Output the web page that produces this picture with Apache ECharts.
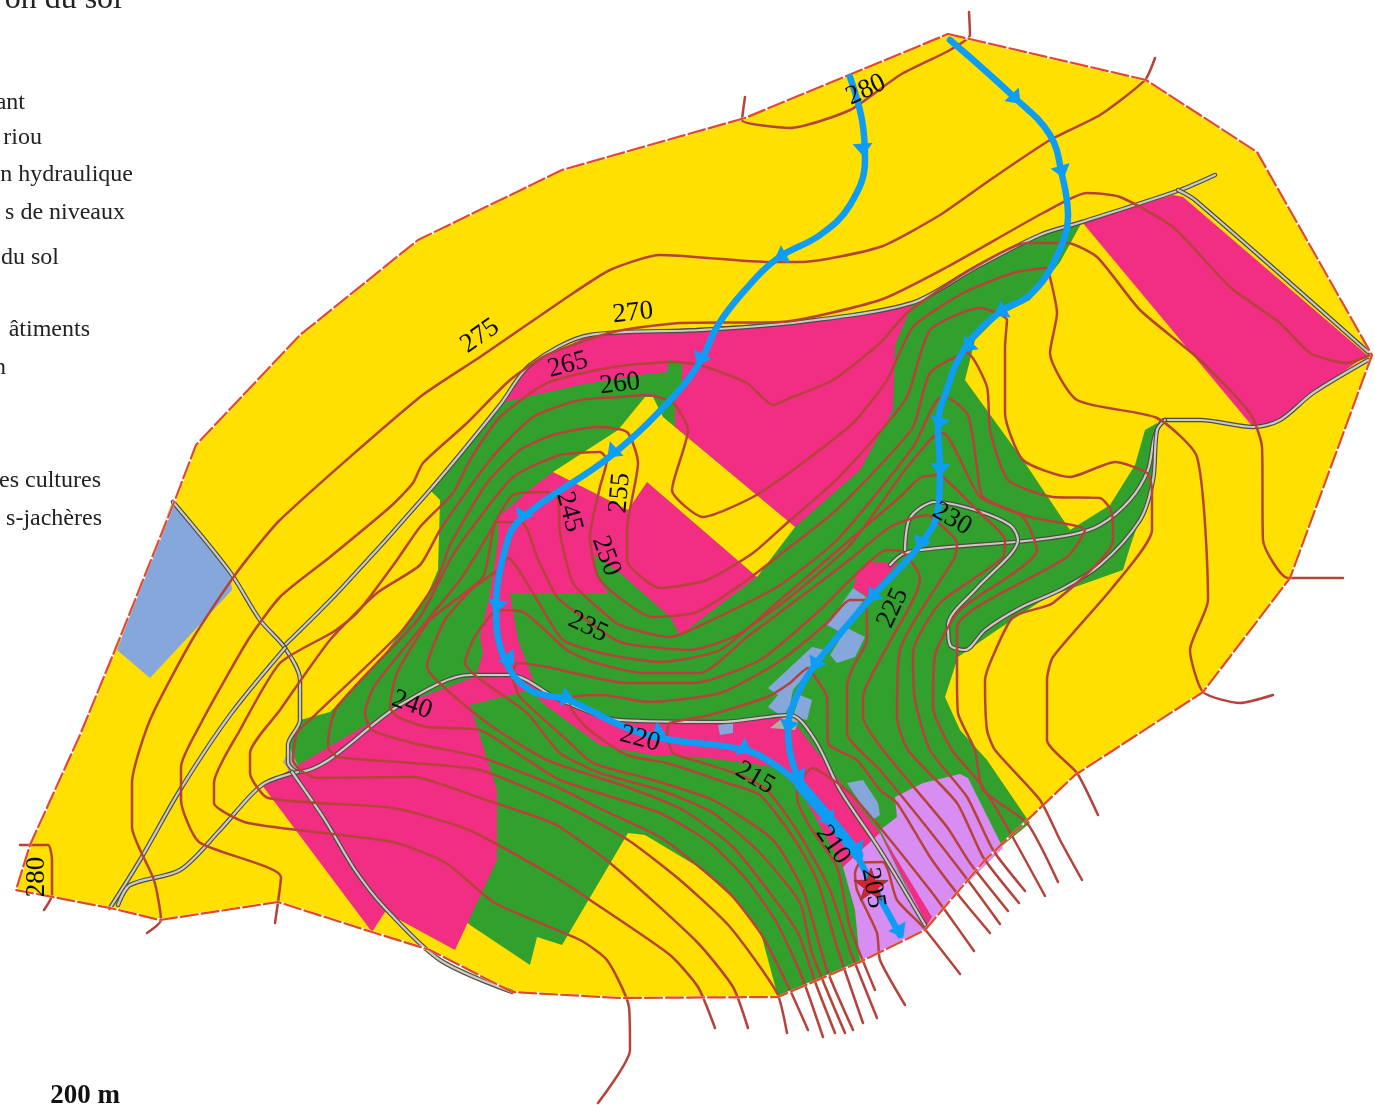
<!DOCTYPE html>
<html>
<head>
<meta charset="utf-8">
<style>html,body{margin:0;padding:0;background:#fff}#map{width:1375px;height:1105px}</style>
<script src="https://cdn.jsdelivr.net/npm/echarts@6/dist/echarts.min.js"></script>
</head>
<body>
<div id="map"></div>
<script>
// limite du bassin
var boundary = [[948,34],[1146,80],[1257,152],[1372,355],[1290,578],[1203,692],[1075,775],[985,860],[925,930],[860,962],[778,997],[620,998],[512,992],[430,950],[372,932],[278,902],[160,920],[110,908],[16,890],[30,845],[80,735],[115,650],[175,500],[196,445],[300,335],[418,240],[562,170],[745,118],[948,34]];

// parcelles
var greenMain = [[1082,222],[1040,235],[975,268],[912,303],[800,322],[660,330],[590,335],[530,365],[500,405],[430,490],[440,500],[438,570],[425,600],[380,660],[330,712],[300,720],[288,745],[288,770],[470,925],[530,965],[537,937],[562,945],[628,833],[645,835],[700,868],[735,900],[760,930],[778,997],[860,962],[925,930],[985,860],[1030,823],[987,760],[960,730],[945,697],[958,657],[997,630],[1047,597],[1123,570],[1130,547],[1153,480],[1157,423],[1145,430],[1135,465],[1110,505],[1070,530],[1023,460],[965,380],[975,340],[1000,315],[1030,300],[1060,262]];
var pinkTop = [[500,403],[530,365],[590,335],[660,330],[800,322],[912,305],[895,345],[893,410],[860,470],[795,527],[675,427],[675,390],[682,387],[682,362],[668,360],[668,372],[640,375],[580,385]];
var pinkMid = [[498,517],[533,487],[553,472],[628,510],[647,482],[757,577],[680,635],[670,617],[620,573],[595,555],[595,575],[608,593],[510,593],[518,640],[537,690],[505,690],[477,672],[483,653],[480,637],[490,593],[498,540]];
var pinkLeft = [[262,785],[290,770],[400,705],[480,675],[470,705],[497,790],[497,860],[455,950],[385,912],[372,932]];
var pinkLow = [[470,680],[510,675],[560,700],[620,720],[720,722],[790,717],[880,833],[843,867],[800,790],[775,767],[700,757],[650,755],[600,745],[545,705],[530,690],[470,705]];
var pinkSmall = [[857,573],[868,562],[898,563],[868,597],[853,588]];
var pinkEast = [[1082,222],[1173,195],[1183,197],[1367,355],[1313,393],[1280,420],[1253,427]];
var pinkStrip = [[880,833],[893,853],[932,917],[927,925]];
var yellowNotch = [[645,397],[653,397],[663,417],[675,427],[795,527],[757,577],[647,482],[628,510],[553,472],[618,430]];
var purpleEast = [[895,797],[923,783],[960,774],[968,778],[1003,848],[955,895],[925,930],[893,853],[880,830],[897,817]];
var purpleWest = [[843,867],[880,833],[927,930],[860,962],[855,910]];
var blueMeadow = [[172,502],[230,572],[232,590],[150,678],[117,650]];
var blueHouses = [
	[[853,588],[866,597],[840,632],[827,625]],
	[[847,628],[865,637],[855,657],[837,663],[830,655]],
	[[768,688],[812,647],[825,650],[808,672],[793,690],[790,705],[783,717],[768,707],[778,695]],
	[[800,695],[812,700],[807,720],[793,717]],
	[[718,725],[733,723],[733,733],[720,735]],
	[[847,783],[863,780],[878,803],[880,815],[872,820]]
];

// chemins
var roads = [
	[[1215,175],[1180,190],[1082,222],[1040,235],[975,268],[912,303],[800,322],[700,330],[590,335],[530,365],[500,405],[430,490],[340,590],[285,645]],
	[[173,502],[230,572],[260,620],[285,648],[300,680],[300,720],[288,745],[288,762],[298,772],[400,705],[470,675],[510,675],[560,700],[620,720],[720,722],[790,715],[815,740],[840,790],[880,850],[925,925]],
	[[285,648],[230,715],[180,790],[140,860],[110,908]],
	[[298,772],[262,785],[220,830],[180,870],[130,885],[118,905]],
	[[292,772],[325,820],[355,870],[385,908],[440,960],[512,992]],
	[[1178,190],[1195,200],[1368,352]],
	[[1368,360],[1313,393],[1280,420],[1253,427],[1200,420],[1165,420],[1155,435],[1148,470],[1130,500],[1100,525],[1070,535],[1015,542],[950,547],[905,553],[890,565]],
	[[1165,420],[1157,430],[1153,480],[1140,520],[1100,565],[1060,590],[1020,608],[985,630],[965,650],[950,645],[948,625],[975,590],[1010,555],[1018,540],[1010,525],[975,510],[935,502],[910,518],[905,550]]
];
var roadPlaza = [[770,728],[790,712],[800,718],[795,730]];
var roadHub = [[283,762],[290,748],[300,770],[292,775]];

// courbes de niveaux
var curve280a = [[745,97],[742,120],[790,128],[850,110],[900,75],[950,50],[970,35],[969,12]];
var curve280b = [[20,845],[48,845],[52,860],[52,895],[44,910]];
var curve275 = [[1155,58],[1145,80],[1100,115],[1050,140],[990,180],[940,215],[880,247],[800,262],[770,262],[660,255],[610,270],[563,300],[480,357],[420,397],[280,520],[235,575],[192,640],[150,720],[132,783],[132,827],[154,880],[161,920],[147,933]];
var curve270 = [[1370,355],[1347,363],[1310,353],[1280,323],[1230,287],[1173,227],[1120,197],[1087,193],[1043,213],[947,267],[880,300],[780,322],[680,323],[613,332],[547,355],[510,380],[467,423],[423,463],[413,483],[390,507],[330,557],[280,597],[248,640],[200,725],[181,767],[181,800],[199,842],[281,877],[275,923]];
var curve265 = [[1343,578],[1288,578],[1263,540],[1262,447],[1250,413],[1200,360],[1140,310],[1097,257],[1067,243],[1027,243],[970,270],[907,313],[880,343],[833,380],[790,398],[773,405],[747,383],[700,365],[673,362],[613,367],[547,383],[500,417],[470,460],[453,493],[420,527],[397,560],[357,613],[333,632],[280,663],[240,730],[214,783],[214,803],[248,823],[393,842],[446,863],[495,903],[580,940],[607,960],[629,1007],[630,1050],[598,1103]];
var curve260 = [[1273,695],[1240,703],[1203,692],[1190,650],[1208,600],[1197,457],[1157,418],[1077,400],[1050,353],[1057,313],[1050,277],[1047,268],[1013,273],[963,293],[913,327],[887,380],[853,423],[797,467],[753,497],[703,517],[672,490],[688,430],[673,403],[647,395],[620,397],[580,400],[533,417],[490,460],[440,530],[420,565],[377,593],[330,640],[280,710],[250,753],[250,773],[268,798],[393,808],[469,830],[560,880],[590,900],[670,955],[698,987],[715,1028]];
var curve255 = [[1098,815],[1077,773],[1047,740],[1047,680],[1053,657],[1113,587],[1152,530],[1152,490],[1147,473],[1115,462],[1070,477],[1023,460],[1005,413],[1005,347],[1007,320],[980,308],[930,330],[907,397],[873,440],[833,483],[787,523],[753,553],[707,580],[660,588],[627,560],[627,530],[638,463],[627,432],[597,427],[553,435],[520,450],[487,483],[450,545],[437,580],[400,633],[313,717],[297,733],[293,760],[300,770],[317,778],[413,777],[480,798],[545,820],[560,827],[610,863],[697,942],[733,987],[748,1028]];
var curve250 = [[1082,880],[1060,840],[1040,800],[995,750],[987,730],[985,680],[990,663],[1013,617],[1053,603],[1113,540],[1112,513],[1100,498],[1053,497],[1008,480],[990,430],[987,387],[967,353],[930,373],[913,427],[873,473],[833,513],[777,557],[743,583],[697,612],[653,617],[600,580],[590,537],[600,487],[607,460],[600,452],[560,455],[513,477],[463,540],[450,560],[420,617],[377,663],[337,707],[330,727],[328,747],[338,757],[413,763],[480,770],[560,803],[628,840],[680,880],[730,927],[777,993],[787,1033]];
var curve245 = [[1058,882],[1027,823],[983,790],[975,750],[958,713],[957,677],[957,627],[1067,557],[1085,530],[1030,517],[983,497],[977,467],[968,415],[947,398],[940,398],[913,447],[837,540],[777,587],[697,627],[670,637],[620,625],[597,607],[573,583],[560,533],[558,500],[547,492],[513,495],[487,537],[460,580],[375,685],[365,713],[372,730],[413,743],[480,757],[553,785],[603,810],[660,837],[703,870],[733,897],[763,937],[790,990],[808,1030]];
var curve240 = [[1045,896],[1007,827],[980,783],[952,750],[933,707],[935,655],[960,610],[1037,550],[1023,517],[980,497],[943,433],[933,437],[905,470],[850,545],[790,597],[737,635],[690,650],[620,642],[577,613],[557,597],[537,557],[523,523],[497,522],[483,577],[430,620],[397,673],[390,707],[398,717],[427,727],[480,730],[520,755],[560,780],[660,813],[710,843],[747,880],[777,923],[802,977],[823,1037]];
var curve235 = [[1025,891],[993,850],[967,797],[930,750],[915,700],[913,653],[940,603],[1003,557],[1005,540],[980,513],[943,477],[937,475],[920,478],[900,497],[853,537],[780,600],[720,650],[660,662],[610,655],[563,640],[533,593],[508,558],[498,570],[473,588],[445,620],[427,667],[447,690],[490,725],[547,760],[627,787],[683,810],[733,847],[773,897],[798,933],[817,987],[835,1033]];
var curve230 = [[1019,903],[983,857],[957,803],[908,750],[897,717],[900,650],[955,557],[957,543],[935,520],[927,515],[890,527],[853,557],[810,590],[747,637],[700,673],[643,673],[593,662],[567,650],[523,612],[497,610],[483,625],[473,640],[465,663],[477,677],[527,713],[560,753],[600,773],[660,790],[713,813],[760,853],[800,903],[812,953],[845,1033]];
var curve225 = [[1008,911],[970,863],[947,827],[883,750],[863,717],[863,697],[887,647],[920,580],[917,570],[903,552],[887,550],[850,580],[820,610],[760,660],[693,683],[627,683],[547,667],[517,663],[513,677],[520,697],[567,740],[593,763],[653,780],[713,800],[773,840],[803,890],[827,970],[853,1030]];
var curve220 = [[1000,924],[970,883],[925,825],[880,770],[847,733],[847,687],[853,667],[867,640],[865,600],[850,600],[827,623],[777,663],[720,693],[648,702],[603,695],[573,697],[570,705],[587,728],[627,755],[667,763],[727,783],[760,795],[793,837],[817,880],[837,947],[863,1023]];
var curve215 = [[990,933],[960,897],[930,857],[897,803],[880,790],[857,760],[828,743],[827,697],[815,677],[808,668],[790,683],[767,697],[710,715],[670,723],[667,733],[673,753],[700,762],[740,775],[767,790],[800,835],[830,890],[850,950],[877,1018]];
var curve210 = [[875,990],[850,927],[837,867],[810,827],[798,803],[797,787],[813,768],[833,780],[850,793],[882,830],[930,890],[947,913],[974,951]];
var curve205 = [[905,1005],[880,960],[877,933],[857,890],[855,873],[860,863],[883,862],[888,870],[897,900],[923,927],[960,974]];
var curves = [curve280a, curve280b, curve275, curve270, curve265, curve260, curve255, curve250, curve245, curve240, curve235, curve230, curve225, curve220, curve215, curve210, curve205];

// reseau hydraulique
var streamWest = [[850,77],[862,120],[865,160],[850,205],[820,235],[778,258],[745,290],[718,325],[700,362],[675,395],[612,455],[520,520],[505,550],[496,610],[505,660],[530,690],[568,700],[620,725],[660,738],[745,750],[775,765],[800,785]];
var streamEast = [[950,40],[1015,98],[1050,135],[1062,175],[1068,215],[1055,260],[1030,295],[1000,312],[965,348],[945,395],[938,425],[940,470],[938,510],[920,545],[872,597],[815,665],[795,700],[788,730],[795,770],[810,795],[850,845],[870,880],[900,935]];
var streamThick = [[800,785],[830,820],[858,855]];
var arrowsWest = [[863,150],[780,257],[700,360],[612,453],[522,517],[497,607],[510,660],[568,698],[660,733],[746,749]];
var arrowsEast = [[1016,99],[1062,172],[1000,312],[967,347],[939,424],[940,470],[920,544],[872,597],[815,665],[788,727],[800,778],[830,820],[858,850],[900,932]];
var exutoire = [[871,886]];

// textes : x, y, texte, rotation
var levelLabels = [
	[866,90,'280',25],[37,877,'280',90],[480,336,'275',35],[633,313,'270',6],[568,365,'265',15],[620,384,'260',7],
	[620,493,'255',85],[606,556,'250',-70],[569,512,'245',-75],[412,705,'240',-20],[588,627,'235',-25],[952,519,'230',-30],
	[893,608,'225',65],[640,739,'220',-15],[755,778,'215',-30],[833,845,'210',-55],[873,888,'205',-80]
];
var legendTexts = [
	[122,0,'on du sol',32],[25,103,'ant',24],[42,138,'riou',24],[133,175,'n hydraulique',24],[125,213,'s de niveaux',24],
	[59,258,'du sol',24],[90,330,'âtiments',24],[6,368,'n',24],[101,481,'es cultures',24],[102,519,'s-jachères',24]
];
var scaleText = [[85,1096,'200 m']];

var yellow = '#ffe000', green = '#32a02c', pink = '#f22d84', purple = '#d88df2', blue = '#85a7dc';
var parcels = [
	[boundary, yellow], [greenMain, green], [pinkTop, pink], [pinkMid, pink], [pinkLeft, pink], [pinkLow, pink],
	[pinkSmall, pink], [pinkEast, pink], [yellowNotch, yellow], [purpleEast, purple], [purpleWest, purple], [pinkStrip, pink],
	[blueMeadow, blue]
];
blueHouses.forEach(function (h) {
	parcels.push([h, blue]);
});
parcels.push([roadPlaza, '#b5ae98']);
parcels.push([roadHub, '#a8a69a']);

function lineSeries(points, color, width, z, smooth, dash) {
	return {
		type: 'line',
		data: points,
		symbol: 'none',
		smooth: smooth,
		z: z,
		silent: true,
		lineStyle: { color: color, width: width, type: dash || 'solid', cap: 'round', join: 'round' }
	};
}

// sens de la fleche d'apres le segment le plus proche
function heading(p, path) {
	var best = 0, dist = Infinity;
	for (var i = 0; i < path.length - 1; i++) {
		var mx = (path[i][0] + path[i + 1][0]) / 2, my = (path[i][1] + path[i + 1][1]) / 2;
		var d = (mx - p[0]) * (mx - p[0]) + (my - p[1]) * (my - p[1]);
		if (d < dist) {
			dist = d;
			best = i;
		}
	}
	var dx = path[best + 1][0] - path[best][0], dy = path[best + 1][1] - path[best][1];
	return Math.atan2(-dx, -dy) * 180 / Math.PI;
}

function arrowSeries(points, path) {
	return {
		type: 'scatter',
		z: 7,
		silent: true,
		symbol: 'triangle',
		symbolSize: [20, 13],
		symbolRotate: function (v) {
			return heading(v, path);
		},
		itemStyle: { color: '#0d9df4', opacity: 1 },
		data: points
	};
}

function textSeries(rows, render, z) {
	return { type: 'custom', coordinateSystem: 'cartesian2d', z: z, silent: true, clip: false, data: rows.map(function (r) {
		return [r[0], r[1]];
	}), renderItem: render };
}

var series = [];
series.push({
	type: 'custom',
	z: 1,
	silent: true,
	clip: false,
	data: parcels.map(function (p, i) {
		return [p[0][0][0], p[0][0][1], i];
	}),
	renderItem: function (params, api) {
		var p = parcels[params.dataIndex];
		return {
			type: 'polygon',
			shape: { points: p[0].map(function (c) { return api.coord(c); }) },
			style: { fill: p[1] }
		};
	}
});
roads.forEach(function (r) {
	series.push(lineSeries(r, '#4c4b46', 4.5, 2, 0.3));
	series.push(lineSeries(r, '#cdcabf', 2.2, 2, 0.3));
});
curves.forEach(function (c) {
	series.push(lineSeries(c, '#b6423a', 2.5, 3, 0.2));
});
series.push(lineSeries(boundary, '#ffffff', 2.4, 4, false));
series.push(lineSeries(boundary, '#e2492b', 2.2, 5, false, [17, 4]));
series.push(lineSeries(streamWest, '#0d9df4', 6.5, 6, 0.4));
series.push(lineSeries(streamEast, '#0d9df4', 6.5, 6, 0.4));
series.push(lineSeries(streamThick, '#0d9df4', 11, 6, 0.4));
series.push(arrowSeries(arrowsWest, streamWest));
series.push(arrowSeries(arrowsEast, streamEast));
// etoile de l'exutoire
series.push({
	type: 'custom',
	z: 8,
	silent: true,
	clip: false,
	data: exutoire,
	renderItem: function (params, api) {
		var c = api.coord([api.value(0), api.value(1)]), pts = [];
		for (var i = 0; i < 10; i++) {
			var r = i % 2 ? 7 : 18, a = -Math.PI / 2 + i * Math.PI / 5;
			pts.push([c[0] + r * Math.cos(a), c[1] + r * Math.sin(a)]);
		}
		return {
			type: 'polygon',
			shape: { points: pts },
			style: { fill: '#d8232d', stroke: '#8c3a46', lineWidth: 1 }
		};
	}
});
series.push(textSeries(levelLabels, function (params, api) {
	var row = levelLabels[params.dataIndex], c = api.coord([row[0], row[1]]);
	return {
		type: 'text',
		x: c[0],
		y: c[1],
		rotation: row[3] * Math.PI / 180,
		style: { text: row[2], fill: '#0a0a0a', font: '27px "Liberation Serif"', textAlign: 'center', textVerticalAlign: 'middle' }
	};
}, 9));
series.push(textSeries(legendTexts, function (params, api) {
	var row = legendTexts[params.dataIndex], c = api.coord([row[0], row[1]]);
	return {
		type: 'text',
		x: c[0],
		y: c[1],
		style: { text: row[2], fill: '#222222', font: row[3] + 'px "Liberation Serif"', textAlign: 'right', textVerticalAlign: 'middle' }
	};
}, 9));
series.push(textSeries(scaleText, function (params, api) {
	var row = scaleText[params.dataIndex], c = api.coord([row[0], row[1]]);
	return {
		type: 'text',
		x: c[0],
		y: c[1],
		style: { text: row[2], fill: '#111111', font: 'bold 27px "Liberation Serif"', textAlign: 'center', textVerticalAlign: 'middle' }
	};
}, 9));

var chart = echarts.init(document.getElementById('map'));
chart.setOption({
	animation: false,
	backgroundColor: '#ffffff',
	grid: { left: 0, right: 0, top: 0, bottom: 0 },
	xAxis: { type: 'value', min: 0, max: 1375, show: false },
	yAxis: { type: 'value', min: 0, max: 1105, inverse: true, show: false },
	series: series
});
</script>
</body>
</html>
